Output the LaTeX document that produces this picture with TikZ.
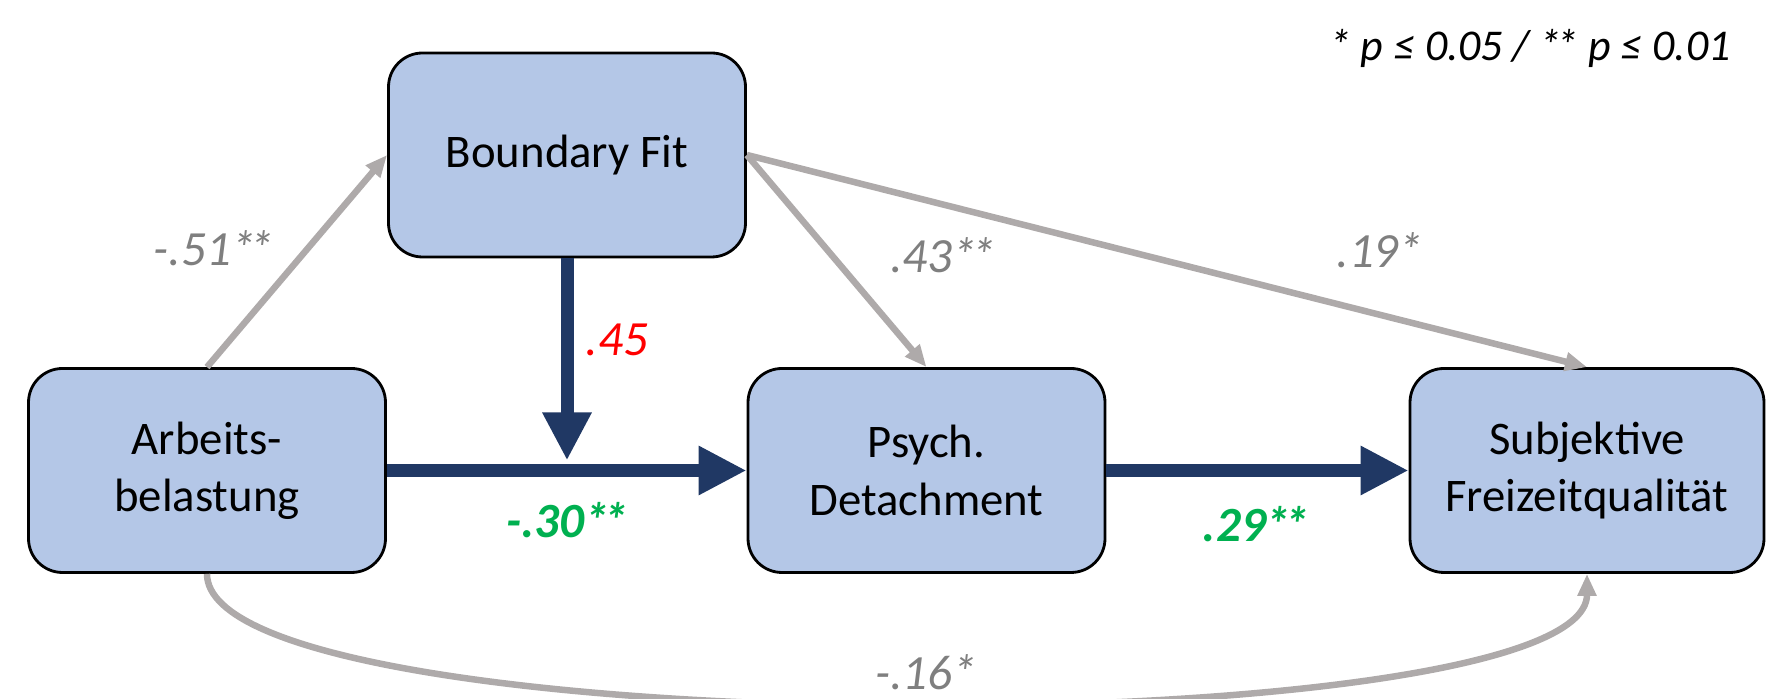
\documentclass[tikz,border=0pt]{standalone}
\usepackage{fontspec}
\setmainfont{Carlito}
\usetikzlibrary{shapes,arrows.meta,positioning,calc}

\definecolor{boxblue}{HTML}{B4C7E7}
\definecolor{pathblue}{HTML}{203864}
\definecolor{pathgrey}{HTML}{AEAAAA}
\definecolor{coefgrey}{HTML}{7F7F7F}
\definecolor{coefred}{HTML}{FF0000}
\definecolor{coefgreen}{HTML}{00B050}

\newcommand{\twostars}{*\kern-0.12em*}

\tikzset{
    varbox/.style={draw=black, line width=0.8pt, fill=boxblue, rounded corners=0.34cm,
        minimum width=3.57cm, minimum height=2.04cm, align=center,
        font=\fontsize{13.3}{16.3}\selectfont},
    weakpath/.style={draw=pathgrey, line width=0.065cm, -{Triangle[length=0.22cm,width=0.18cm]}},
    strongpath/.style={draw=pathblue, line width=0.13cm, -{Triangle[length=0.48cm,width=0.46cm]}},
    coef/.style={font=\fontsize{14}{16}\selectfont\itshape, text=coefgrey},
    sigcoef/.style={font=\fontsize{14}{16}\selectfont\bfseries\itshape, text=coefgreen},
}

\begin{document}
\begin{tikzpicture}
    \useasboundingbox (0,0) rectangle (17.66,6.99);

    % Variables
    \node[varbox] (fit) at (5.67,5.44) {Boundary Fit};
    \node[varbox] (load) at (2.07,2.285) {Arbeits-\\belastung};
    \node[varbox] (detach) at (9.265,2.285) {Psych.\\Detachment};
    \node[varbox, minimum width=3.54cm] (leisure) at (15.87,2.285) {Subjektive\\Freizeitqualität};

    % Paths
    \draw[weakpath] (load.north) -- (fit.west);
    \draw[weakpath] (fit.east) -- (detach.north);
    \draw[weakpath] (fit.east) -- (leisure.north);
    \draw[weakpath] (load.south) .. controls +(0,-1.73) and +(0,-1.73) .. (leisure.south);
    \draw[strongpath] (load.east) -- (detach.west);
    \draw[strongpath] (detach.east) -- (leisure.west);

    % Moderation
    \coordinate (join) at ($(fit.south |- load.east)+(0,0.1)$);
    \draw[strongpath] (fit.south) -- (join);

    % Coefficients
    \node[coef] (c1) at (2.14,4.51) {-.51\twostars};
    \node[coef, text=coefred] (c2) at (6.17,3.59) {.45};
    \node[sigcoef] (c3) at (5.67,1.79) {-.30\twostars};
    \node[coef] (c4) at (9.43,4.44) {.43\twostars};
    \node[coef] (c5) at (13.80,4.49) {.19*};
    \node[sigcoef] (c6) at (12.56,1.75) {.29\twostars};
    \node[coef] (c7) at (9.26,0.27) {-.16*};

    % Note
    \node[font=\fontsize{12.5}{15}\selectfont\itshape, anchor=east] (note) at (17.43,6.51) {* p ≤ 0.05 / \twostars{} p ≤ 0.01};
\end{tikzpicture}
\end{document}
